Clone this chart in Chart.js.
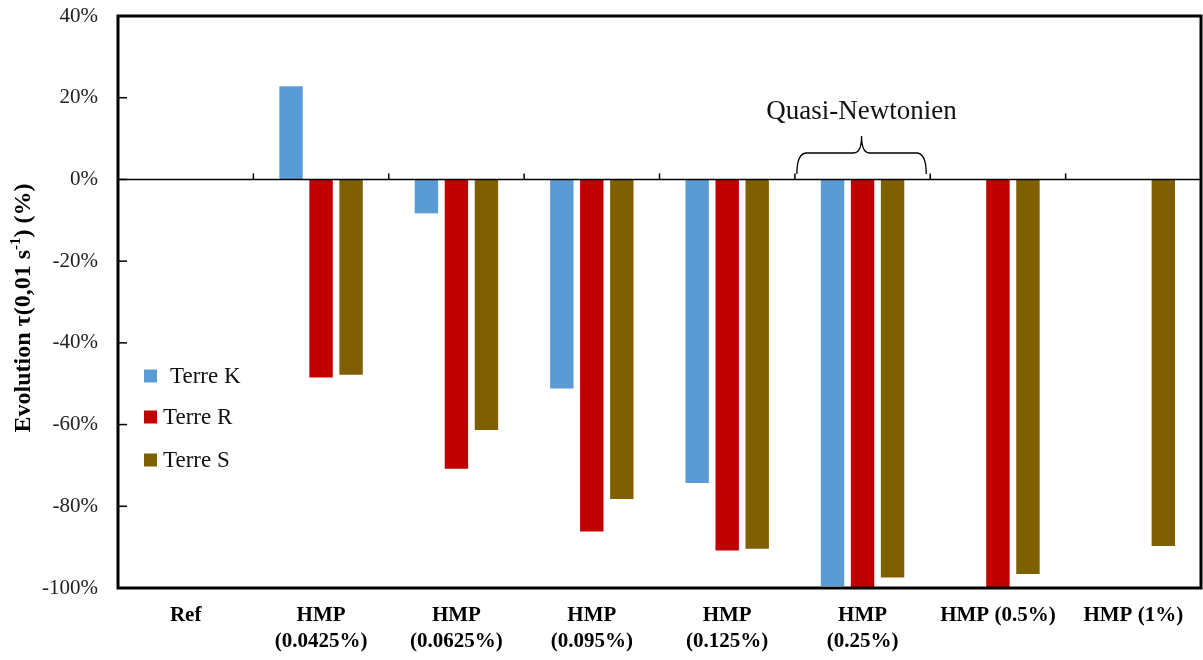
<!DOCTYPE html>
<html>
<head>
<meta charset="utf-8">
<script src="https://cdn.jsdelivr.net/npm/chart.js@4/dist/chart.umd.min.js"></script>
<style>
  body { margin: 0; background: #fff; }
  #wrap { width: 1203px; height: 660px; position: relative; }
</style>
</head>
<body>
<div id="wrap"><canvas id="myChart"></canvas></div>
<script>
// categories and series
const categories = [
  'Ref',
  ['HMP', '(0.0425%)'],
  ['HMP', '(0.0625%)'],
  ['HMP', '(0.095%)'],
  ['HMP', '(0.125%)'],
  ['HMP', '(0.25%)'],
  'HMP (0.5%)',
  'HMP (1%)'
];
const terreK = [null, 22.8, -8.3, -51.2, -74.3, -99.5, null, null];
const terreR = [null, -48.5, -70.8, -86.2, -90.8, -100, -100, null];
const terreS = [null, -47.8, -61.3, -78.2, -90.4, -97.4, -96.6, -89.7];
const seriesNames = ['Terre K', 'Terre R', 'Terre S'];
const colors = ['#5B9BD5', '#C00000', '#7F6000'];
const annotationText = 'Quasi-Newtonien';
const annotationIndex = 5;

const serif = '"Liberation Serif", "Times New Roman", serif';

// borders, small ticks, zero line, legend, annotation, y title
const decorations = {
  id: 'decorations',
  afterDraw(chart) {
    const ctx = chart.ctx;
    const a = chart.chartArea;
    const x = chart.scales.x;
    const y = chart.scales.y;
    const y0 = y.getPixelForValue(0);
    const half = (x.getPixelForValue(1) - x.getPixelForValue(0)) / 2;
    ctx.save();

    // zero line
    ctx.strokeStyle = '#000';
    ctx.lineWidth = 1.5;
    ctx.beginPath();
    ctx.moveTo(a.left, y0);
    ctx.lineTo(a.right, y0);
    ctx.stroke();

    // category boundary ticks on zero line
    for (let i = 1; i < categories.length; i++) {
      const bx = x.getPixelForValue(i) - half;
      ctx.beginPath();
      ctx.moveTo(bx, y0);
      ctx.lineTo(bx, y0 - 6);
      ctx.stroke();
    }

    // y ticks inside
    y.ticks.forEach(t => {
      const ty = y.getPixelForValue(t.value);
      ctx.beginPath();
      ctx.moveTo(a.left, ty);
      ctx.lineTo(a.left + 9, ty);
      ctx.stroke();
    });

    // frame
    ctx.lineWidth = 3;
    ctx.strokeRect(a.left, a.top, a.right - a.left, a.bottom - a.top);

    // legend
    ctx.font = '23px ' + serif;
    ctx.textBaseline = 'middle';
    ctx.textAlign = 'left';
    const legendY = [376, 417, 460];
    const textX = [170, 163, 163];
    seriesNames.forEach((name, i) => {
      ctx.fillStyle = colors[i];
      ctx.fillRect(144, legendY[i] - 6.5, 13, 13);
      ctx.fillStyle = '#111';
      ctx.fillText(name, textX[i], legendY[i] + 1);
    });

    // brace annotation
    const bl = x.getPixelForValue(annotationIndex) - half + 2;
    const br = x.getPixelForValue(annotationIndex) + half - 4;
    const bc = (bl + br) / 2;
    const by = 153;
    ctx.lineWidth = 1.3;
    ctx.beginPath();
    ctx.moveTo(bl, 174);
    ctx.quadraticCurveTo(bl, by, bl + 10, by);
    ctx.lineTo(bc - 8, by);
    ctx.quadraticCurveTo(bc, by, bc, 136);
    ctx.quadraticCurveTo(bc, by, bc + 8, by);
    ctx.lineTo(br - 10, by);
    ctx.quadraticCurveTo(br, by, br, 174);
    ctx.stroke();
    ctx.font = '27px ' + serif;
    ctx.textAlign = 'center';
    ctx.fillStyle = '#111';
    ctx.fillText(annotationText, bc, 112);

    // y axis title with superscript
    ctx.translate(24, 308);
    ctx.rotate(-Math.PI / 2);
    ctx.fillStyle = '#000';
    ctx.textAlign = 'left';
    const big = 'bold 24px ' + serif;
    const small = 'bold 15px ' + serif;
    const parts = [
      ['Evolution \u03c4(0,01 s', big, 0],
      ['-1', small, -8],
      [') (%)', big, 0]
    ];
    let w = 0;
    parts.forEach(p => { ctx.font = p[1]; w += ctx.measureText(p[0]).width; });
    let px = -w / 2;
    parts.forEach(p => {
      ctx.font = p[1];
      ctx.fillText(p[0], px, p[2]);
      px += ctx.measureText(p[0]).width;
    });
    ctx.restore();
  }
};

const ctx = document.getElementById('myChart').getContext('2d');
new Chart(ctx, {
  type: 'bar',
  data: {
    labels: categories,
    datasets: [
      { label: seriesNames[0], data: terreK, backgroundColor: colors[0] },
      { label: seriesNames[1], data: terreR, backgroundColor: colors[1] },
      { label: seriesNames[2], data: terreS, backgroundColor: colors[2] }
    ]
  },
  options: {
    responsive: true,
    maintainAspectRatio: false,
    animation: false,
    layout: { padding: { top: 16, right: 2, left: 0, bottom: 0 } },
    datasets: {
      bar: { categoryPercentage: 0.665, barPercentage: 0.78 }
    },
    plugins: {
      legend: { display: false },
      tooltip: { enabled: false }
    },
    scales: {
      x: {
        grid: { display: false, drawTicks: false },
        border: { display: false },
        ticks: {
          color: '#000',
          padding: 14,
          maxRotation: 0,
          autoSkip: false,
          font: { family: serif, size: 21, weight: 'bold', lineHeight: 1.25 }
        },
        afterFit(scale) {
          scale.height = 72;
          scale.paddingLeft = 0;
          scale.paddingRight = 0;
        }
      },
      y: {
        min: -100,
        max: 40,
        grid: { display: false, drawTicks: false },
        border: { display: false },
        ticks: {
          stepSize: 20,
          color: '#222',
          padding: 20,
          font: { family: serif, size: 21 },
          callback: v => v + '%'
        },
        afterFit(scale) {
          scale.width = 118;
          scale.paddingTop = 0;
          scale.paddingBottom = 0;
        }
      }
    }
  },
  plugins: [decorations]
});
</script>
</body>
</html>
